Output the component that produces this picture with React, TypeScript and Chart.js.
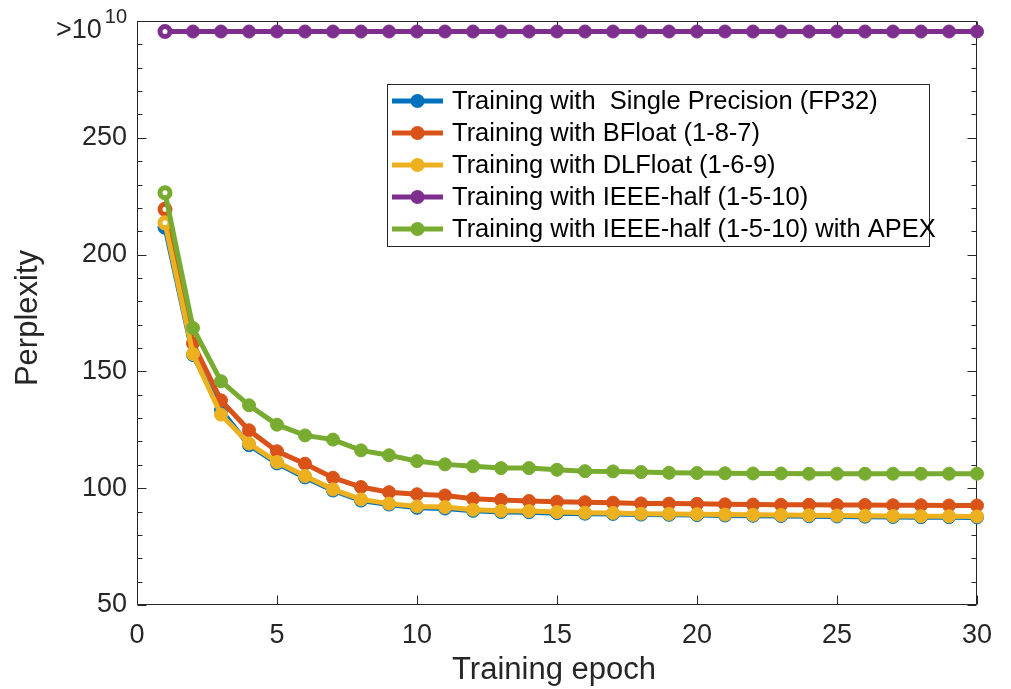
import React, { useEffect, useRef } from 'react';
import { Chart, registerables } from 'chart.js';

Chart.register(...registerables);

// ---------- data ----------
const epochs = [1, 2, 3, 4, 5, 6, 7, 8, 9, 10, 11, 12, 13, 14, 15, 16, 17, 18, 19, 20, 21, 22, 23, 24, 25, 26, 27, 28, 29, 30];

const fp32 = [211.7, 157.0, 133.4, 118.4, 110.6, 104.6, 99.0, 94.7, 93.0, 91.6, 91.3, 90.3, 89.8, 89.7, 89.3, 89.1, 89.0, 88.7, 88.6, 88.5, 88.3, 88.2, 88.1, 88.0, 87.9, 87.8, 87.7, 87.6, 87.6, 87.5];
const bfloat = [219.4, 162.0, 137.6, 124.8, 115.8, 110.5, 104.5, 100.5, 98.3, 97.4, 96.9, 95.5, 95.0, 94.5, 94.2, 94.0, 93.8, 93.5, 93.4, 93.3, 93.1, 93.0, 92.9, 92.9, 92.8, 92.8, 92.7, 92.7, 92.6, 92.6];
const dlfloat = [213.6, 157.4, 131.5, 119.1, 111.2, 105.2, 99.5, 95.2, 93.4, 92.2, 91.9, 90.8, 90.3, 90.2, 89.8, 89.5, 89.4, 89.1, 89.0, 88.9, 88.7, 88.6, 88.5, 88.4, 88.3, 88.2, 88.1, 88.0, 88.0, 87.9];
// IEEE-half diverges (> 1e10); shown on the capped top row of the axis
const ieeeHalf = [295.5, 295.5, 295.5, 295.5, 295.5, 295.5, 295.5, 295.5, 295.5, 295.5, 295.5, 295.5, 295.5, 295.5, 295.5, 295.5, 295.5, 295.5, 295.5, 295.5, 295.5, 295.5, 295.5, 295.5, 295.5, 295.5, 295.5, 295.5, 295.5, 295.5];
const apex = [226.5, 168.6, 145.8, 135.5, 127.2, 122.6, 120.8, 116.2, 114.1, 111.6, 110.2, 109.4, 108.6, 108.6, 107.9, 107.3, 107.2, 106.9, 106.6, 106.5, 106.4, 106.3, 106.3, 106.2, 106.2, 106.2, 106.2, 106.2, 106.2, 106.2];

const seriesLabels = [
  'Training with  Single Precision (FP32)',
  'Training with BFloat (1-8-7)',
  'Training with DLFloat (1-6-9)',
  'Training with IEEE-half (1-5-10)',
  'Training with IEEE-half (1-5-10) with APEX',
];
const seriesColors = ['#0072BD', '#D95319', '#EDB120', '#7E2F8E', '#77AC30'];

const xTickValues = [0, 5, 10, 15, 20, 25, 30];
const yTickValues = [50, 60, 70, 80, 90, 100, 110, 120, 130, 140, 150, 160, 170, 180, 190, 200, 210, 220, 230, 240, 250, 260, 270, 280, 290, 300];
const yLabeledTicks = [50, 100, 150, 200, 250];
const overflowBase = '>10';
const overflowExp = '10';
const xTitle = 'Training epoch';
const yTitle = 'Perplexity';

// ---------- styling ----------
const AXIS = '#262626';
const FONT = '"Liberation Sans", Arial, Helvetica, sans-serif';

const matlabPlugin = {
  id: 'matlabFrame',
  beforeDatasetsDraw(chart: any) {
    const { ctx, chartArea: ca, scales } = chart;
    const xs = scales.x;
    const ys = scales.y;
    const L = Math.round(ca.left) + 0.5;
    const R = Math.round(ca.right) - 0.5;
    const T = Math.round(ca.top) + 0.5;
    const B = Math.round(ca.bottom) - 0.5;
    ctx.save();
    ctx.strokeStyle = AXIS;
    ctx.lineWidth = 1;
    ctx.beginPath();
    ctx.moveTo(L, T); ctx.lineTo(R, T); ctx.lineTo(R, B); ctx.lineTo(L, B); ctx.closePath();
    for (const v of xTickValues) {
      const px = Math.round(xs.getPixelForValue(v)) + 0.5;
      ctx.moveTo(px, B); ctx.lineTo(px, B - 9);
      ctx.moveTo(px, T); ctx.lineTo(px, T + 9);
    }
    for (const v of yTickValues) {
      const py = Math.round(ys.getPixelForValue(v)) + 0.5;
      const len = v % 50 === 0 ? 9 : 5;
      ctx.moveTo(L, py); ctx.lineTo(L + len, py);
      ctx.moveTo(R, py); ctx.lineTo(R - len, py);
    }
    ctx.stroke();
    ctx.restore();
  },
  afterDraw(chart: any) {
    const { ctx, chartArea: ca, scales } = chart;
    const ys = scales.y;
    ctx.save();
    // overflow label ">10^10"
    const py = ys.getPixelForValue(ieeeHalf[0]);
    const rightEdge = ca.left - 10;
    ctx.fillStyle = AXIS;
    ctx.textAlign = 'right';
    ctx.textBaseline = 'middle';
    ctx.font = `20px ${FONT}`;
    const expW = ctx.measureText(overflowExp).width;
    ctx.fillText(overflowExp, rightEdge, py - 14);
    ctx.font = `27px ${FONT}`;
    ctx.fillText(overflowBase, rightEdge - expW - 3, py - 1);

    // axis titles
    ctx.font = `31px ${FONT}`;
    ctx.textAlign = 'center';
    ctx.textBaseline = 'middle';
    ctx.fillText(xTitle, (ca.left + ca.right) / 2 - 3, 670);
    ctx.save();
    ctx.translate(28, (ca.top + ca.bottom) / 2 + 5);
    ctx.rotate(-Math.PI / 2);
    ctx.fillText(yTitle, 0, 0);
    ctx.restore();

    // legend
    const bx = 387, by = 84, bw = 542, bh = 162;
    ctx.fillStyle = '#ffffff';
    ctx.fillRect(bx, by, bw, bh);
    ctx.strokeStyle = AXIS;
    ctx.lineWidth = 1;
    ctx.strokeRect(bx + 0.5, by + 0.5, bw, bh);
    chart.data.datasets.forEach((ds: any, i: number) => {
      const cy = by + 17 + i * 32;
      ctx.strokeStyle = ds.borderColor;
      ctx.lineWidth = 5;
      ctx.beginPath();
      ctx.moveTo(bx + 5, cy);
      ctx.lineTo(bx + 56, cy);
      ctx.stroke();
      ctx.fillStyle = ds.borderColor;
      ctx.beginPath();
      ctx.arc(bx + 30.5, cy, 7, 0, Math.PI * 2);
      ctx.fill();
      ctx.fillStyle = '#000000';
      ctx.font = `25.5px ${FONT}`;
      ctx.textAlign = 'left';
      ctx.textBaseline = 'middle';
      ctx.fillText(ds.label, bx + 65, cy + 1);
    });
    ctx.restore();
  },
};

const seriesValues = [fp32, bfloat, dlfloat, ieeeHalf, apex];

export default function App() {
  const ref = useRef<HTMLCanvasElement>(null);
  useEffect(() => {
    document.body.style.margin = '0';
    const canvas = ref.current!;
    const datasets = seriesValues.map((vals, i) => {
      const color = seriesColors[i];
      return {
        label: seriesLabels[i],
        data: epochs.map((e, k) => ({ x: e, y: vals[k] })),
        borderColor: color,
        backgroundColor: color,
        borderWidth: 5,
        pointRadius: (c: any) => (c.dataIndex === 0 ? 5 : 6.5),
        pointBorderWidth: (c: any) => (c.dataIndex === 0 ? 5 : 1),
        pointBackgroundColor: (c: any) => (c.dataIndex === 0 ? '#ffffff' : color),
        pointBorderColor: color,
        tension: 0,
        clip: false as any,
        order: seriesValues.length - i,
      };
    });
    const chart = new Chart(canvas, {
      type: 'line',
      data: { datasets },
      options: {
        animation: false,
        responsive: false,
        events: [],
        layout: { padding: { top: 21, right: 34, left: 0, bottom: 0 } },
        plugins: { legend: { display: false }, tooltip: { enabled: false } },
        scales: {
          x: {
            type: 'linear',
            min: 0,
            max: 30,
            grid: { display: false, drawTicks: false },
            border: { display: false },
            afterBuildTicks: (s: any) => { s.ticks = xTickValues.map((v) => ({ value: v })); },
            afterFit: (s: any) => { s.height = 84; s.paddingLeft = 0; s.paddingRight = 0; s.paddingTop = 0; s.paddingBottom = 0; },
            ticks: {
              autoSkip: false,
              maxRotation: 0,
              padding: 14,
              color: AXIS,
              font: { family: FONT, size: 27 },
            },
          },
          y: {
            type: 'linear',
            min: 50,
            max: 300,
            grid: { display: false, drawTicks: false },
            border: { display: false },
            afterBuildTicks: (s: any) => { s.ticks = yTickValues.map((v) => ({ value: v })); },
            afterFit: (s: any) => { s.width = 137; s.paddingLeft = 0; s.paddingRight = 0; s.paddingTop = 0; s.paddingBottom = 0; },
            ticks: {
              autoSkip: false,
              padding: 10,
              color: AXIS,
              font: { family: FONT, size: 27 },
              callback: (v: any) => (yLabeledTicks.includes(Number(v)) ? String(v) : ''),
            },
          },
        },
      },
      plugins: [matlabPlugin],
    });
    return () => chart.destroy();
  }, []);
  return (
    <div style={{ width: 1011, height: 689 }}>
      <canvas ref={ref} width={1011} height={689} style={{ display: 'block' }} />
    </div>
  );
}
